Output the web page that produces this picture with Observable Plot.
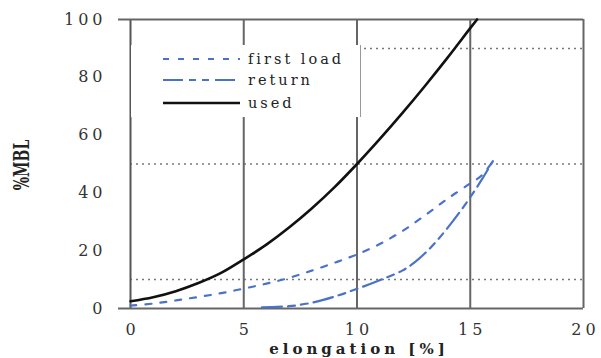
<!DOCTYPE html>
<html><head><meta charset="utf-8">
<script src="https://cdn.jsdelivr.net/npm/d3@7"></script>
<script src="https://cdn.jsdelivr.net/npm/@observablehq/plot@0.6"></script>
<style>
body{margin:0;background:#fff;}
#wrap{position:relative;width:601px;height:358px;overflow:hidden;background:#fff;}
#legend{position:absolute;left:131px;top:45px;width:229px;height:72px;background:#fff;border-right:1.5px solid #999;}
.lab{position:absolute;font-family:"DejaVu Serif",serif;color:#222;white-space:nowrap;}
</style></head><body><div id="wrap"></div>
<script>
// ---- data ----
const xTicks = [0, 5, 10, 15, 20];
const yTicks = [0, 20, 40, 60, 80, 100];
const xGrid = [5, 10, 15, 20];
const yGrid = [10, 50, 90];

const seriesNames = ["first load", "return", "used"];

const firstX = [0, 1, 2, 3, 4, 5, 6, 7, 8, 9, 10, 11, 12, 13, 14, 15, 15.5, 16];
const firstY = [1, 1.7, 2.8, 4, 5.3, 6.9, 8.6, 10.6, 13.1, 15.8, 18.7, 22.3, 26.8, 32.2, 38, 43.3, 46, 51];

const returnX = [5.8, 7, 8, 9, 10, 11, 12, 12.5, 13, 13.5, 14, 14.5, 15, 15.5, 16];
const returnY = [0.4, 0.8, 2, 4.1, 6.8, 9.8, 13.1, 15.7, 19.1, 23.2, 27.9, 33, 38.5, 44.5, 51];

const usedX = [0, 1, 2, 3, 4, 5, 6, 7, 8, 9, 10, 11, 12, 13, 14, 15, 15.3];
const usedY = [2.5, 3.9, 6.0, 8.8, 12.3, 17, 22.1, 28, 34.6, 41.9, 50, 58.6, 67.6, 77, 86.8, 97, 100];

const toRows = (xs, ys) => xs.map((x, i) => ({x, y: ys[i]}));
const first = toRows(firstX, firstY);
const ret = toRows(returnX, returnY);
const used = toRows(usedX, usedY);

const blue = "#4a72c8";
const styles = [
  {stroke: blue, dash: "6,9", width: 2.2},
  {stroke: blue, dash: "20,6,7,6,7,6", width: 2.2},
  {stroke: "#111", dash: null, width: 2.6}
];

const plot = Plot.plot({
  width: 601, height: 358,
  marginLeft: 130, marginRight: 18, marginTop: 19, marginBottom: 50,
  x: {domain: [0, 20]},
  y: {domain: [0, 100]},
  style: {fontFamily: "DejaVu Serif", fontSize: "16px", letterSpacing: "4px", color: "#333", background: "#fff"},
  marks: [
    Plot.ruleY(yGrid, {stroke: "#777", strokeWidth: 1.5, strokeDasharray: "2,4"}),
    Plot.ruleX(xGrid, {stroke: "#666", strokeWidth: 2}),
    Plot.ruleX([0], {stroke: "#555", strokeWidth: 2}),
    Plot.ruleY([0, 100], {x1: -0.53, x2: 20, stroke: "#666", strokeWidth: 2}),
    Plot.line(first, {x: "x", y: "y", stroke: styles[0].stroke, strokeWidth: styles[0].width, strokeDasharray: styles[0].dash, curve: "catmull-rom"}),
    Plot.line(ret, {x: "x", y: "y", stroke: styles[1].stroke, strokeWidth: styles[1].width, strokeDasharray: styles[1].dash, curve: "catmull-rom"}),
    Plot.line(used, {x: "x", y: "y", stroke: styles[2].stroke, strokeWidth: styles[2].width, curve: "catmull-rom"}),
    Plot.axisX(xTicks, {tickSize: 0, tickPadding: 15, dx: 2, label: null}),
    Plot.axisY(yTicks, {tickSize: 0, tickPadding: 24, label: null})
  ]
});
const wrap = document.getElementById("wrap");
wrap.appendChild(plot);

// legend
const leg = document.createElement("div");
leg.id = "legend";
wrap.appendChild(leg);
const ls = d3.select(leg).append("svg").attr("width", 229).attr("height", 72);
const rowsY = [14, 35, 58];
seriesNames.forEach((name, i) => {
  ls.append("line").attr("x1", 32).attr("x2", 109).attr("y1", rowsY[i]).attr("y2", rowsY[i])
    .attr("stroke", styles[i].stroke).attr("stroke-width", styles[i].width)
    .attr("stroke-dasharray", styles[i].dash);
  ls.append("text").attr("x", 117).attr("y", rowsY[i]).attr("dy", "0.35em")
    .attr("font-family", "DejaVu Serif").attr("font-size", 14.5).attr("letter-spacing", "3px")
    .attr("fill", "#222").text(name);
});

// axis titles
const yl = document.createElement("div");
yl.className = "lab";
yl.textContent = "%MBL";
yl.style.cssText = "left:21px;top:165px;font-size:14px;font-weight:bold;transform:translate(-50%,-50%) rotate(-90deg) scaleY(1.6);";
wrap.appendChild(yl);

const xl = document.createElement("div");
xl.className = "lab";
xl.textContent = "elongation [%]";
xl.style.cssText = "left:359px;top:349px;font-size:15px;font-weight:bold;letter-spacing:4px;line-height:14px;transform:translate(-50%,-50%);";
wrap.appendChild(xl);
</script>
</body></html>
